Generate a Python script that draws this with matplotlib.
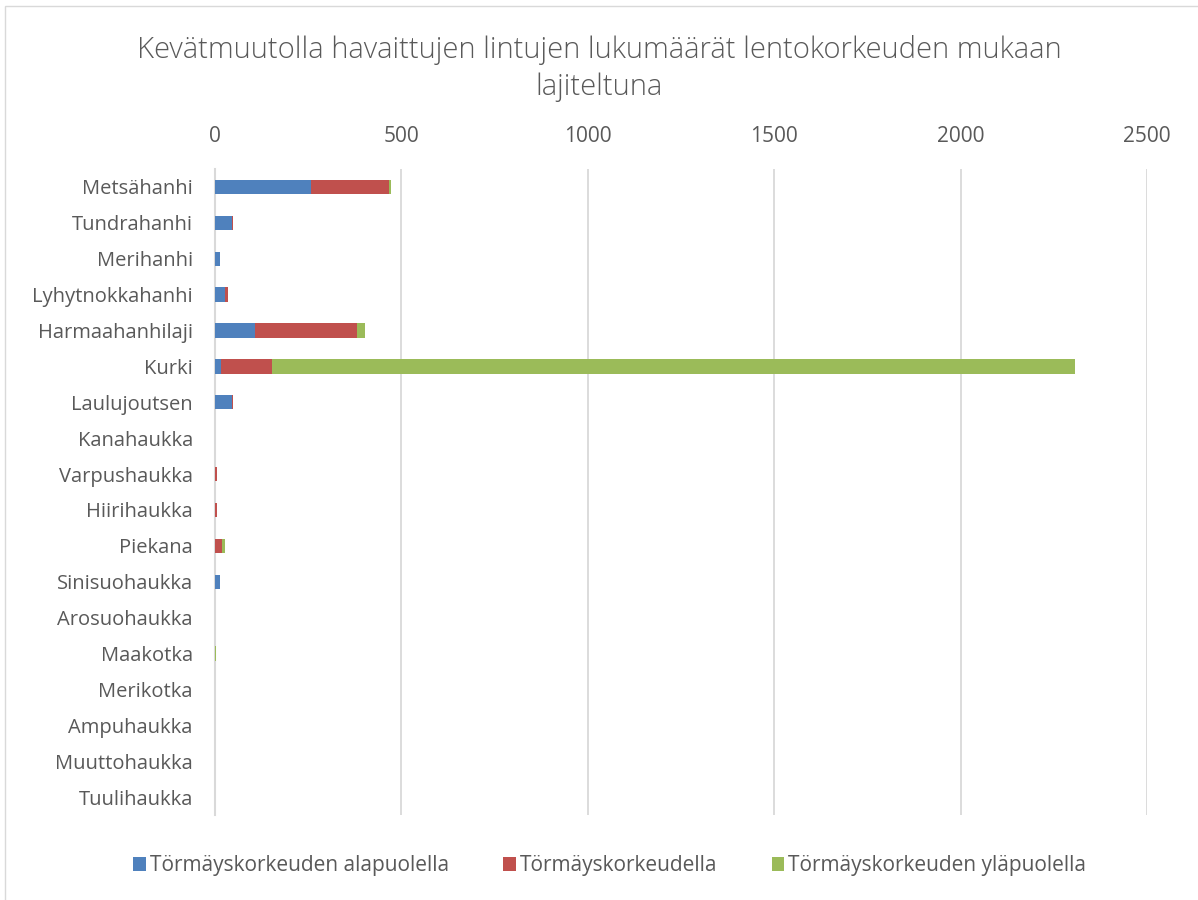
import numpy as np
import matplotlib
matplotlib.use("Agg")
from matplotlib import pyplot as plt
from matplotlib.patches import Rectangle

species = ['Metsähanhi', 'Tundrahanhi', 'Merihanhi', 'Lyhytnokkahanhi',
           'Harmaahanhilaji', 'Kurki', 'Laulujoutsen', 'Kanahaukka',
           'Varpushaukka', 'Hiirihaukka', 'Piekana', 'Sinisuohaukka',
           'Arosuohaukka', 'Maakotka', 'Merikotka', 'Ampuhaukka',
           'Muuttohaukka', 'Tuulihaukka']
alle = [257, 45, 12, 27, 106, 16, 45, 0, 0, 0, 1, 13, 1, 0, 0, 1, 1, 0]
koh = [209, 4, 2, 7, 276, 137, 2, 1, 6, 5, 17, 0, 0, 1, 1, 0, 0, 1]
yli = [6, 0, 0, 0, 19, 2154, 0, 0, 0, 0, 9, 1, 0, 1, 0, 0, 0, 0]
series_names = ['Törmäyskorkeuden alapuolella', 'Törmäyskorkeudella',
                'Törmäyskorkeuden yläpuolella']
colors = ['#4F81BD', '#C0504D', '#9BBB59']

plt.rcParams['font.family'] = ['Open Sans', 'DejaVu Sans']
txt = '#595959'

fig = plt.figure(figsize=(11.98, 9), dpi=100)
# light chart border
fig.patches.append(Rectangle((0.004, -0.01), 1.2, 1.0033, transform=fig.transFigure,
                             fill=False, edgecolor='#d9d9d9', linewidth=1))
ax = fig.add_axes([0.1795, 0.0944, 0.778, 0.7178])

y = np.arange(len(species))
left = np.zeros(len(species))
for vals, name, c in zip([alle, koh, yli], series_names, colors):
    ax.barh(y, vals, left=left, height=0.4, color=c, label=name, zorder=3)
    left = left + np.array(vals)

ax.set_xlim(0, 2500)
ax.set_ylim(len(species) - 0.5, -0.5)
ax.set_xticks(np.arange(0, 2501, 500))
ax.set_yticks(y)
ax.set_yticklabels(species)
ax.xaxis.tick_top()
ax.tick_params(axis='both', length=0, colors=txt, labelsize=15)
ax.tick_params(axis='y', labelsize=14.5, pad=16)
ax.tick_params(axis='x', pad=16)
ax.grid(axis='x', color='#d9d9d9', linewidth=1.3, zorder=0)
for s in ['top', 'right', 'bottom']:
    ax.spines[s].set_visible(False)
ax.spines['left'].set_color('#d9d9d9')
ax.spines['left'].set_linewidth(1.5)

fig.text(0.5, 0.924, 'Kevätmuutolla havaittujen lintujen lukumäärät lentokorkeuden mukaan\nlajiteltuna',
         ha='center', va='center', fontsize=21, color=txt, fontweight='light', linespacing=1.35)

fig.legend(loc='center', bbox_to_anchor=(0.509, 0.038), ncol=3, frameon=False,
           fontsize=15, labelcolor=txt, handlelength=0.6, handleheight=0.6,
           handletextpad=0.2, columnspacing=2.6)

fig.savefig('out.png', dpi=100)
